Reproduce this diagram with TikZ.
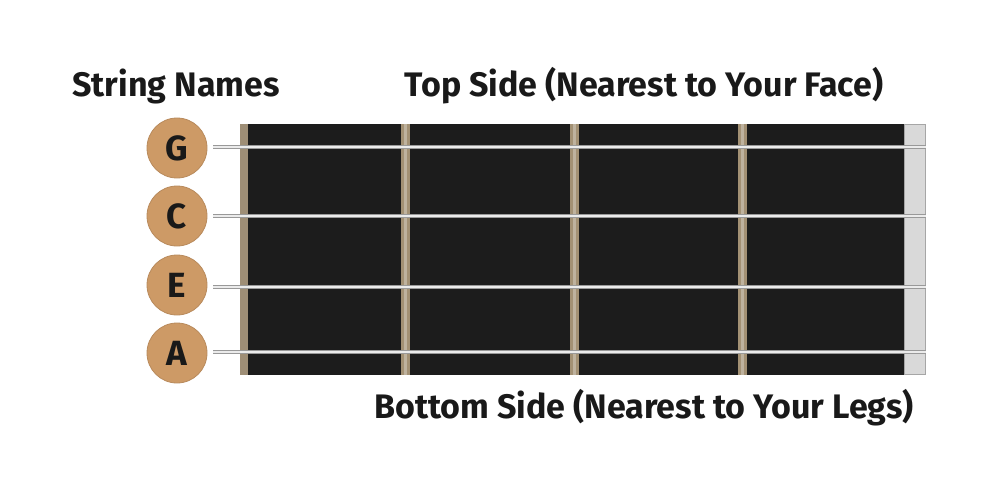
\documentclass[tikz,border=0pt]{standalone}
\usepackage{fontspec}
\setmainfont{Fira Sans}
\definecolor{tan}{HTML}{CD9A66}
\definecolor{tanedge}{HTML}{B88A5C}
\definecolor{board}{HTML}{1C1C1C}
\definecolor{fretc}{HTML}{A39174}
\definecolor{endc}{HTML}{D9D9D9}
\begin{document}
\begin{tikzpicture}[x=1pt,y=-1pt,
  note/.style={circle,fill=tan,draw=tanedge,line width=0.8pt,minimum size=60pt,inner sep=0pt,
    font=\fontsize{35}{35}\selectfont\bfseries,text=black!90},
  title/.style={font=\fontsize{34}{34}\selectfont\bfseries,text=black!90,inner sep=0pt},
  fretbar/.style={fill=fretc,draw=none},
  stringline/.style={line width=4.8pt,draw=gray!80},
  stringcore/.style={line width=2.6pt,draw=white!92!black}]
\useasboundingbox (0,0) rectangle (1000,500);
% fretboard
\fill[board] (248,124) rectangle (904,375);
\fill[fretc!85!gray] (240,124) rectangle (248,375);
\fill[endc] (904,124) rectangle (926,375);
\draw[gray!70,line width=0.6pt] (904.3,124.3) rectangle (925.7,374.7);
\foreach \x in {401,570,738}{
  \fill[fretbar] (\x,124) rectangle (\x+9,375);
  \fill[fretc!70!white] (\x+3,124) rectangle (\x+6,375);
}
% string nodes
\node[note] (G) at (177,148) {G};
\node[note] (C) at (177,216) {C};
\node[note] (E) at (177,285) {E};
\node[note] (A) at (177,353) {A};
% strings
\foreach \n/\y in {G/147,C/216,E/287,A/352}{
  \coordinate (\n l) at (213,\y);
  \coordinate (\n r) at (926,\y);
  \draw[stringline] (\n l) -- (\n r);
  \draw[stringcore] (\n l) -- (\n r);
}
% titles
\node[title] (names) at (176,86) {String Names};
\node[title] (top) at (644,86) {Top Side (Nearest to Your Face)};
\node[title] (bottom) at (644,408) {Bottom Side (Nearest to Your Legs)};
\end{tikzpicture}
\end{document}
